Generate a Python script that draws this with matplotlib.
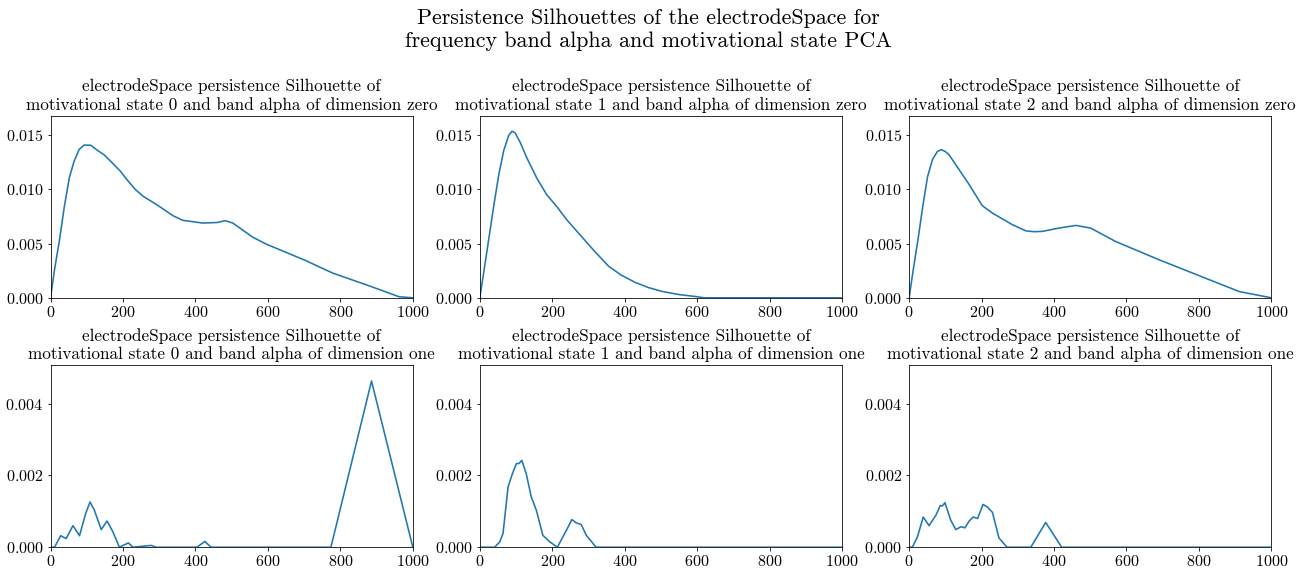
import matplotlib
matplotlib.use("Agg")
import matplotlib.pyplot as plt

plt.rcParams["font.family"] = ["cmr10", "DejaVu Serif"]
plt.rcParams["mathtext.fontset"] = "cm"
plt.rcParams["axes.formatter.use_mathtext"] = True

# dimension zero silhouettes, one per motivational state
zero_x0 = [0, 11, 25, 38, 52, 65, 79, 93, 111, 129, 147, 166, 193, 211, 234, 256, 293, 338, 365, 420, 460, 482, 503, 558, 595, 700, 779, 880, 962, 1000]
zero_y0 = [0, 0.0026, 0.0054, 0.0084, 0.0111, 0.0126, 0.0137, 0.0141, 0.01408, 0.01362, 0.01322, 0.0126, 0.01168, 0.0109, 0.0100, 0.00936, 0.0086, 0.00758, 0.00715, 0.0069, 0.00695, 0.00712, 0.0069, 0.0056, 0.00496, 0.0035, 0.00228, 0.0011, 0.0001, 0]

zero_x1 = [0, 11, 25, 39, 52, 66, 80, 89, 98, 112, 130, 158, 185, 213, 240, 277, 314, 339, 356, 390, 429, 465, 503, 550, 595, 620, 1000]
zero_y1 = [0, 0.0024, 0.0055, 0.0086, 0.0113, 0.0136, 0.0150, 0.01538, 0.0152, 0.0143, 0.0129, 0.0110, 0.0095, 0.0084, 0.0072, 0.0058, 0.0044, 0.0035, 0.0029, 0.0021, 0.00142, 0.00095, 0.00059, 0.0003, 0.00012, 0, 0]

zero_x2 = [0, 11, 25, 38, 51, 65, 78, 89, 100, 110, 138, 166, 202, 230, 285, 322, 345, 368, 414, 460, 501, 570, 690, 911, 1000]
zero_y2 = [0, 0.0025, 0.0055, 0.0085, 0.0112, 0.0128, 0.0135, 0.01368, 0.0135, 0.01321, 0.01183, 0.01044, 0.0085, 0.00782, 0.00675, 0.00618, 0.0061, 0.00613, 0.00644, 0.00668, 0.00644, 0.0052, 0.00351, 0.00058, 0]

# dimension one silhouettes
one_x0 = [0, 11, 28, 43, 62, 80, 97, 109, 121, 140, 156, 172, 190, 215, 227, 278, 291, 404, 426, 443, 774, 886, 1000]
one_y0 = [0, 0, 0.00032, 0.00024, 0.0006, 0.00032, 0.00094, 0.00126, 0.00103, 0.00049, 0.00073, 0.00043, 0, 0.00012, 0, 0.00005, 0, 0, 0.00016, 0, 0, 0.00463, 0]

one_x1 = [0, 41, 55, 64, 78, 90, 101, 108, 116, 128, 142, 156, 174, 193, 214, 239, 254, 266, 280, 294, 321, 1000]
one_y1 = [0, 0, 0.00015, 0.00038, 0.00168, 0.00205, 0.00233, 0.00233, 0.00242, 0.00205, 0.0014, 0.00103, 0.00033, 0.00015, 0, 0.00047, 0.00077, 0.00068, 0.00063, 0.00033, 0, 0]

one_x2 = [0, 9, 23, 39, 55, 74, 86, 92, 99, 115, 129, 143, 154, 166, 177, 189, 204, 216, 230, 248, 270, 336, 377, 421, 1000]
one_y2 = [0, 0, 0.00029, 0.00084, 0.0006, 0.00089, 0.00116, 0.00115, 0.00124, 0.00075, 0.00049, 0.00057, 0.00054, 0.00073, 0.00084, 0.0008, 0.00119, 0.00112, 0.00097, 0.00026, 0, 0, 0.00069, 0, 0]

states = [0, 1, 2]
zero_x = [zero_x0, zero_x1, zero_x2]
zero_y = [zero_y0, zero_y1, zero_y2]
one_x = [one_x0, one_x1, one_x2]
one_y = [one_y0, one_y1, one_y2]

fig, axes = plt.subplots(2, 3, figsize=(18, 8), dpi=72)
fig.subplots_adjust(left=0.039, right=0.981, top=0.799, bottom=0.05, wspace=0.185, hspace=0.37)

for i in states:
    ax = axes[0, i]
    ax.plot(zero_x[i], zero_y[i], color="tab:blue", lw=1.6)
    ax.set_xlim(0, 1000)
    ax.set_ylim(0, 0.0168)
    ax.set_yticks([0, 0.005, 0.010, 0.015])
    ax.set_title("electrodeSpace persistence Silhouette of\nmotivational state %d and band alpha of dimension zero" % i, fontsize=17.2)
    ax.tick_params(labelsize=16)

    ax = axes[1, i]
    ax.plot(one_x[i], one_y[i], color="tab:blue", lw=1.6)
    ax.set_xlim(0, 1000)
    ax.set_ylim(0, 0.00507)
    ax.set_yticks([0, 0.002, 0.004])
    ax.set_title("electrodeSpace persistence Silhouette of\nmotivational state %d and band alpha of dimension one" % i, fontsize=17.2)
    ax.tick_params(labelsize=16)

fig.suptitle("Persistence Silhouettes of the electrodeSpace for\nfrequency band alpha and motivational state PCA", fontsize=22, y=0.985)
fig.savefig("out.png", dpi=72)
